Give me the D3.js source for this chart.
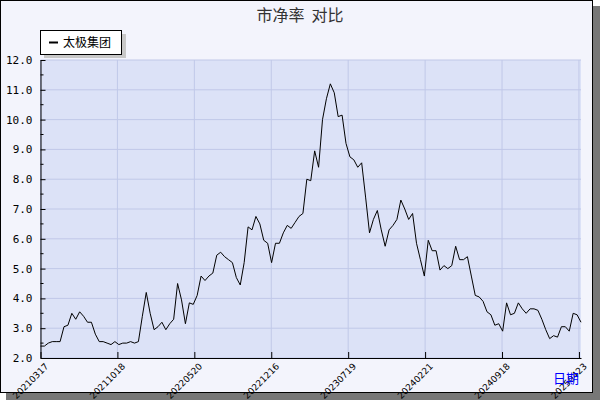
<!DOCTYPE html>
<html><head><meta charset="utf-8">
<script src="https://cdn.jsdelivr.net/npm/d3@7"></script>
<style>body{margin:0;background:#fff}</style></head>
<body><svg id="c" width="600" height="400"></svg>
<script>
const seriesName = "太极集团";
const values = [2.4,2.4,2.5,2.55,2.55,2.55,3.05,3.1,3.5,3.3,3.55,3.4,3.2,3.2,2.8,2.55,2.55,2.5,2.45,2.55,2.45,2.5,2.5,2.55,2.5,2.55,3.4,4.2,3.5,2.95,3.05,3.2,2.95,3.15,3.3,4.5,3.95,3.15,3.85,3.8,4.1,4.75,4.6,4.75,4.85,5.45,5.55,5.4,5.3,5.2,4.7,4.45,5.2,6.4,6.3,6.75,6.5,5.95,5.85,5.2,5.85,5.85,6.2,6.45,6.35,6.55,6.75,6.85,8.0,
7.95,8.95,8.4,10.0,10.7,11.2,10.9,10.1,10.15,9.2,8.75,8.65,8.4,8.55,7.4,6.2,6.65,6.95,6.3,5.75,6.3,6.45,6.65,7.3,7.0,6.65,6.85,5.85,5.3,4.75,5.95,5.6,5.6,4.95,5.1,5.0,5.1,5.75,5.3,5.3,5.4,4.75,4.1,4.05,3.9,3.55,3.45,3.1,3.15,2.9,3.85,3.45,3.5,3.85,3.65,3.5,3.65,3.65,3.6,3.3,2.95,2.65,2.75,2.7,3.05,3.05,2.9,3.5,3.45,3.2];
const tickLabels = ["20210317","20211018","20220520","20221216","20230719","20240221","20240918","20250423"];
const tickDays = [0,150,300,450,600,750,900,1050];
const totalDays = 1054;
const yTicks = [2,3,4,5,6,7,8,9,10,11,12];

const svg = d3.select("#c");
svg.append("rect").attr("x",6).attr("y",6).attr("width",594).attr("height",394).attr("fill","#777");
svg.append("rect").attr("x",0.5).attr("y",0.5).attr("width",592).attr("height",392).attr("fill","#f3f4fc").attr("stroke","#000");
const L=40.5,R=581,T=60,B=358;
const x = d3.scaleLinear().domain([0,totalDays]).range([L,R]);
const y = d3.scaleLinear().domain([2,12]).range([B,T]);
svg.append("rect").attr("x",L).attr("y",T).attr("width",R-L).attr("height",B-T).attr("fill","#dce2f7");
const g = svg.append("g");
yTicks.forEach(v=>g.append("line").attr("x1",L).attr("x2",R).attr("y1",y(v)).attr("y2",y(v)).attr("stroke","#c0c8e8"));
tickDays.forEach(d=>g.append("line").attr("x1",x(d)).attr("x2",x(d)).attr("y1",T).attr("y2",B).attr("stroke","#c0c8e8"));
const step = totalDays/(values.length-1);
svg.append("path").datum(values).attr("fill","none").attr("stroke","#000").attr("stroke-width",1)
 .attr("d",d3.line().x((d,i)=>x(i*step)).y(d=>y(d)));
const ya = svg.append("g").attr("transform",`translate(${L},0)`)
 .call(d3.axisLeft(y).tickValues(yTicks).tickFormat(d3.format(".1f")).tickSize(-5).tickSizeOuter(0));
ya.selectAll("text").attr("x",-8).attr("font-family","DejaVu Sans Mono").attr("font-size",11).attr("fill","#000");
ya.selectAll("line").attr("stroke","#000");
ya.select(".domain").attr("stroke","#000");
const mid = d3.range(2.5,12,1);
mid.forEach(v=>svg.append("line").attr("x1",L).attr("x2",L+3).attr("y1",y(v)).attr("y2",y(v)).attr("stroke","#000"));
const xa = svg.append("g").attr("transform",`translate(0,${B})`)
 .call(d3.axisBottom(x).tickValues(tickDays).tickFormat((d,i)=>tickLabels[i]).tickSize(-6).tickSizeOuter(0));
xa.select(".domain").attr("stroke","#000");
xa.selectAll("line").attr("stroke","#000");
xa.selectAll("text").attr("font-family","DejaVu Sans").attr("font-size",9).attr("fill","#000")
 .attr("text-anchor","end").attr("x",0).attr("y",0).attr("dy",0)
 .attr("transform","translate(8,9) rotate(-45)");
svg.append("text").attr("x",300).attr("y",21).attr("text-anchor","middle").attr("font-size",16)
 .attr("font-family","Noto Sans CJK SC").attr("fill","#333").attr("xml:space","preserve").style("white-space","pre").text("市净率  对比");
svg.append("rect").attr("x",44).attr("y",34).attr("width",82).attr("height",24).attr("fill","#c8c8c8");
svg.append("rect").attr("x",40.5).attr("y",30.5).attr("width",81).attr("height",24).attr("fill","#fff").attr("stroke","#000");
svg.append("line").attr("x1",49).attr("x2",58).attr("y1",42.5).attr("y2",42.5).attr("stroke","#000").attr("stroke-width",2);
svg.append("text").attr("x",63).attr("y",47).attr("font-size",12).attr("font-family","Noto Sans CJK SC").text(seriesName);
svg.append("text").attr("x",579).attr("y",383).attr("text-anchor","end").attr("font-size",13)
 .attr("font-family","Noto Sans CJK SC").attr("fill","#0000ff").text("日期");
</script></body></html>
